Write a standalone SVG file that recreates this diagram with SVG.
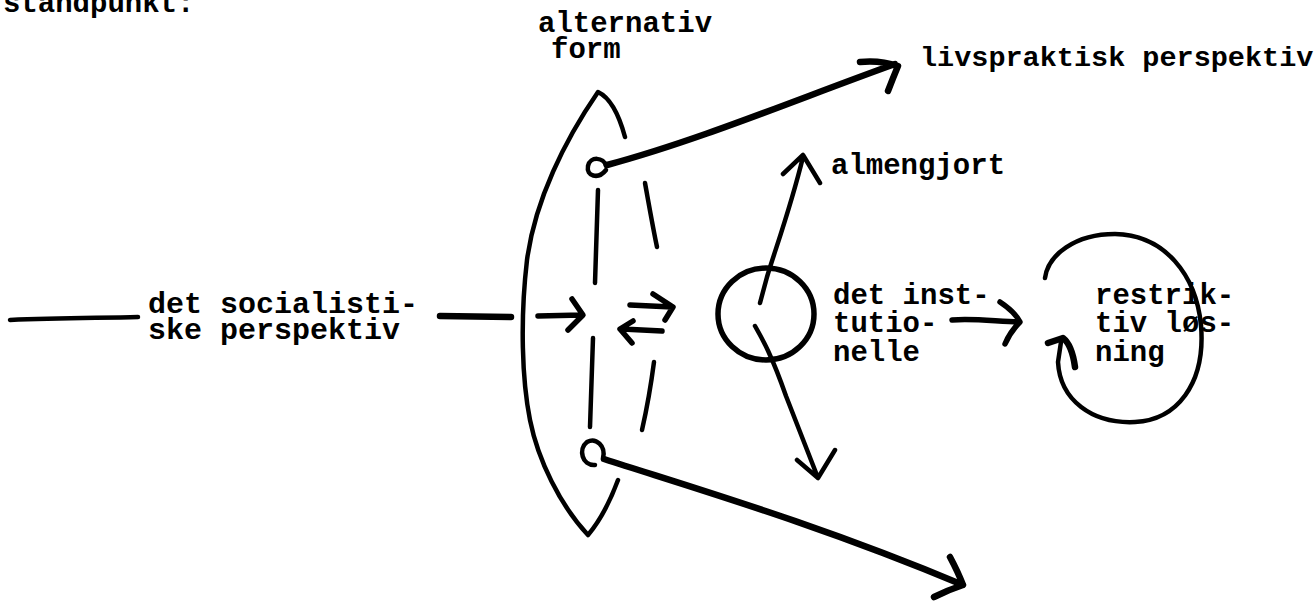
<svg xmlns="http://www.w3.org/2000/svg" width="1315" height="608" viewBox="0 0 1315 608">
<style>
.t{font-family:"Liberation Mono","Courier New",monospace;font-size:29px;font-weight:bold;fill:#000}
.s{fill:none;stroke:#000;stroke-linecap:round;stroke-linejoin:round}
.w3{stroke-width:3.5}
.w4{stroke-width:4.5}
.w5{stroke-width:5.5}
.w6{stroke-width:6.5}
</style>
<rect width="1315" height="608" fill="#fff"/>
<g id="heading"><text class="t" x="3" y="12">standpunkt:</text></g>
<g id="socialist-label"><text class="t" x="148" y="313" style="font-size:30px">det socialisti-</text><text class="t" x="148" y="339" style="font-size:30px">ske perspektiv</text></g>
<g id="alternativ-label"><text class="t" x="538" y="32">alternativ</text><text class="t" x="551" y="58">form</text></g>
<g id="livspraktisk-label"><text class="t" x="920" y="66" style="font-size:28.5px">livspraktisk perspektiv</text></g>
<g id="almengjort-label"><text class="t" x="831" y="174">almengjort</text></g>
<g id="institutionelle-label"><text class="t" x="833" y="304">det inst-</text><text class="t" x="833" y="332">tutio-</text><text class="t" x="833" y="361">nelle</text></g>
<g id="lens">
<path class="s w4" d="M625,137 Q615,100 598,92 C565,140 535,200 527,260 C520,320 522,380 530,420 C538,460 560,505 588,535 Q605,515 618,480"/>
<path class="s w4" d="M598,190 L595,283"/>
<path class="s w4" d="M593,338 L590,427"/>
<path class="s w4" d="M645,183 C649,205 653,228 657,247"/>
<path class="s w4" d="M654,362 C651,385 647,408 642,430"/>
<path class="s w4" d="M606,166 C604,157 590,156 588,166 C586,176 598,180 606,170"/>
<path class="s w4" d="M603,458 C606,446 596,437 587,442 C578,449 582,466 595,465"/>
</g>
<g id="institution-circle"><ellipse class="s w5" cx="766" cy="314" rx="48" ry="46"/></g>
<g id="restriktiv-node">
<path class="s w4" d="M1045,278 C1048,255 1075,234 1115,234 C1165,235 1196,275 1201,325 C1206,385 1176,420 1135,422 C1092,424 1060,400 1058,362 L1061,342"/>
<path class="s w6" d="M1048,343 L1063,338 Q1072,345 1075,367"/>
<text class="t" x="1095" y="304">restrik-</text><text class="t" x="1095" y="332">tiv løs-</text><text class="t" x="1095" y="361">ning</text>
</g>
<g id="connectors">
<path class="s w4" d="M10,320 C60,318 100,318 138,317"/>
<path class="s w6" d="M440,316 L511,317"/>
<path class="s w5" d="M538,316 L582,315 M572,299 L583,315 L568,330"/>
<path class="s w5" d="M630,305 L672,307 M653,294 L673,307 L665,320"/>
<path class="s w5" d="M662,331 L622,329 M633,321 L620,329 L632,343"/>
<path class="s w6" d="M607,165 C700,140 800,98 895,64 M860,62 Q880,60 898,66 Q893,78 888,91"/>
<path class="s w6" d="M604,459 C700,490 820,525 963,585 M950,557 Q958,572 963,585 Q948,590 934,597"/>
<path class="s w4" d="M760,303 L767,277 C775,250 790,210 803,157 M783,174 L803,155 L820,183"/>
<path class="s w4" d="M755,326 C763,340 772,356 786,396 L818,478 M797,460 L818,478 L835,450"/>
<path class="s w5" d="M952,320 C975,318 1000,322 1018,322 M1000,302 Q1015,312 1020,322 Q1010,332 1005,344"/>
</g>
</svg>
